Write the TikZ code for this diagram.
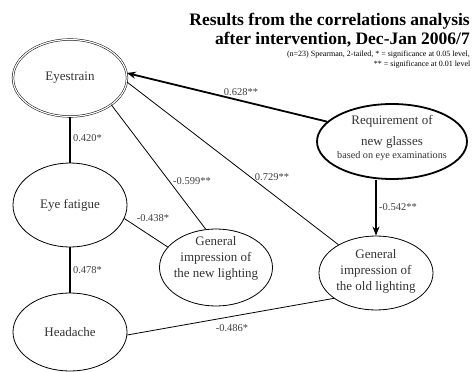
\documentclass[tikz,border=0pt]{standalone}
\usepackage{fontspec}
\setmainfont{Liberation Serif}
\usetikzlibrary{shapes.geometric,arrows.meta}
\begin{document}
\begin{tikzpicture}[x=1pt,y=-1pt,
  ell/.style={draw, ellipse, inner sep=0pt, line width=0.8pt, font=\fontsize{13}{16}\selectfont, text=black!80},
  txt/.style={font=\fontsize{13}{16}\selectfont, text=black!80, align=center, inner sep=0pt},
  lab/.style={font=\fontsize{10.5}{12}\selectfont, text=black!75, inner sep=0pt},
  thinline/.style={line width=0.8pt},
  thickline/.style={line width=1.8pt},
  arr/.style={-{Stealth[length=9pt,width=7pt]}}]
\useasboundingbox (0,0) rectangle (474,372);
% title
\node[anchor=base east, font=\fontsize{17.5}{19}\selectfont\bfseries, inner sep=0pt] (t1) at (470,25.5) {Results from the correlations analysis};
\node[anchor=base east, font=\fontsize{17.5}{19}\selectfont\bfseries, inner sep=0pt] (t2) at (470,44) {after intervention, Dec-Jan 2006/7};
\node[anchor=base east, font=\fontsize{8}{9}\selectfont, inner sep=0pt] (t3) at (470,56.5) {(n=23) Spearman, 2-tailed, * = significance at 0.05 level,};
\node[anchor=base east, font=\fontsize{8}{9}\selectfont, inner sep=0pt] (t4) at (470.5,66) {** = significance at 0.01 level};
% ellipses
\node[ell, double, double distance=1.2pt, line width=0.5pt, minimum width=114pt, minimum height=77pt] (es) at (70,78) {Eyestrain};
\node[ell, minimum width=114pt, minimum height=84pt] (ef) at (70,205) {Eye fatigue};
\node[ell, minimum width=114pt, minimum height=78pt] (ha) at (70,332) {Headache};
\node[ell, minimum width=113pt, minimum height=77pt] (nl) at (216,267.5) {};
\node[txt] (nlt) at (216,258) {General\\impression of\\the new lighting};
\node[ell, minimum width=114pt, minimum height=74pt] (ol) at (376,273) {};
\node[txt] (olt) at (376,271) {General\\impression of\\the old lighting};
\node[ell, line width=1.8pt, minimum width=150pt, minimum height=75pt] (req) at (392,141.5) {};
\node[txt] (reqt) at (392,138) {Requirement of\\[5pt]new glasses\\[-3pt]{\fontsize{10.2}{12}\selectfont based on eye examinations}};
% connectors
\draw[thickline] (es.south) -- (ef.north);
\draw[thickline] (ef.south) -- (ha.north);
\draw[thinline] (es.-33) -- (nl.105);
\draw[thinline] (ef.-14) -- (nl.157);
\draw[thinline] (es.-4) -- (ol.143);
\draw[thinline] (ha.-3) -- (ol.-149);
\draw[thickline, arr] (req.163) -- (es.5);
\draw[thickline, arr] (req.south -| ol.north) -- (ol.north);
% labels
\node[lab] (l1) at (87.5,138) {0.420*};
\node[lab] (l2) at (87.5,270) {0.478*};
\node[lab] (l3) at (241,92) {0.628**};
\node[lab] (l4) at (272,177) {0.729**};
\node[lab] (l5) at (192,181) {-0.599**};
\node[lab] (l6) at (153,218) {-0.438*};
\node[lab, anchor=west] (l7) at (379,207) {-0.542**};
\node[lab] (l8) at (232,328) {-0.486*};
\end{tikzpicture}
\end{document}
